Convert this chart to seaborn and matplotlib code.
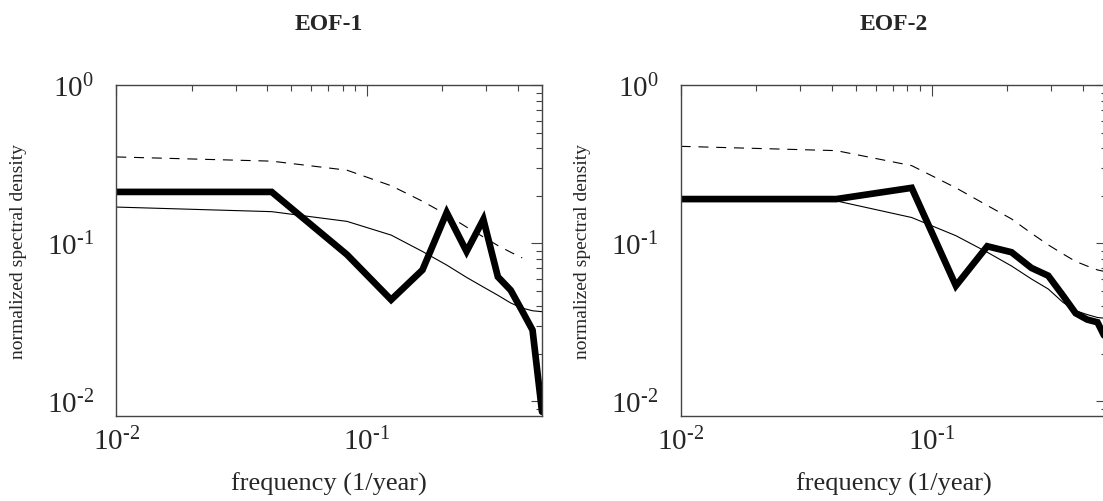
import numpy as np
import pandas as pd
import seaborn as sns
import matplotlib
matplotlib.use("Agg")
import matplotlib.pyplot as plt
from matplotlib.ticker import LogLocator, FuncFormatter, NullFormatter

# ---------------- data ----------------
freq = [0.01, 0.0417, 0.0833, 0.125, 0.1667, 0.2083, 0.25, 0.2917,
        0.3333, 0.375, 0.4167, 0.4583, 0.5]

# EOF-1
eof1_spec = [0.212, 0.212, 0.085, 0.044, 0.068, 0.157, 0.089, 0.142,
             0.0615, 0.0506, 0.0374, 0.0283, 0.0086]
eof1_red = [0.170, 0.159, 0.138, 0.113, 0.089, 0.073, 0.061, 0.053,
            0.047, 0.042, 0.039, 0.0375, 0.037]
eof1_sig_freq = [0.01, 0.0417, 0.0833, 0.125, 0.1667, 0.2083, 0.25, 0.2917,
                 0.3333, 0.375, 0.4167]
eof1_sig = [0.353, 0.332, 0.291, 0.232, 0.185, 0.152, 0.127, 0.110,
            0.097, 0.088, 0.081]

# EOF-2
eof2_spec = [0.191, 0.191, 0.225, 0.054, 0.096, 0.088, 0.070, 0.0625,
             0.047, 0.0362, 0.033, 0.0317, 0.024]
eof2_red = [0.190, 0.186, 0.146, 0.112, 0.088, 0.072, 0.0596, 0.0515,
            0.0425, 0.0375, 0.0355, 0.034, 0.0335]
eof2_sig_freq = freq
eof2_sig = [0.412, 0.387, 0.311, 0.225, 0.174, 0.143, 0.116, 0.098,
            0.086, 0.077, 0.072, 0.068, 0.066]

titles = ["EOF-1", "EOF-2"]
xlabel = "frequency (1/year)"
ylabel = "normalized spectral density"

# ---------------- style ----------------
sns.set_style("white")
plt.rcParams["font.family"] = ["Liberation Serif", "DejaVu Serif"]
plt.rcParams["mathtext.fontset"] = "custom"
plt.rcParams["mathtext.rm"] = "Liberation Serif"
plt.rcParams["mathtext.it"] = "Liberation Serif:italic"
plt.rcParams["mathtext.bf"] = "Liberation Serif:bold"

fig = plt.figure(figsize=(11.03, 5.02), dpi=100)
ax1 = fig.add_axes([0.1054, 0.1703, 0.386, 0.6574])
ax2 = fig.add_axes([0.6171, 0.1703, 0.3865, 0.6574])

panels = [
    (ax1, titles[0], eof1_spec, eof1_red, eof1_sig_freq, eof1_sig),
    (ax2, titles[1], eof2_spec, eof2_red, eof2_sig_freq, eof2_sig),
]


def _fmt(v, p):
    e = int(round(np.log10(v)))
    s = str(abs(e))
    if e < 0:
        s = "\u2010" + s
    return r"$\mathregular{10^{%s}}$" % s


fmt = FuncFormatter(_fmt)

for ax, title, spec, red, sig_f, sig in panels:
    ax.set_xscale("log")
    ax.set_yscale("log")
    sns.lineplot(x=freq, y=red, ax=ax, color="black", linewidth=0.8)
    sns.lineplot(x=sig_f, y=sig, ax=ax, color="black", linewidth=0.8,
                 linestyle=(0, (9, 7)))
    sns.lineplot(x=freq, y=spec, ax=ax, color="black", linewidth=4.8,
                 solid_joinstyle="miter", solid_capstyle="round")
    ax.set_xlim(0.01, 0.5)
    ax.set_ylim(10 ** -2.089, 1.0)

    ax.xaxis.set_major_locator(LogLocator(base=10, numticks=10))
    ax.yaxis.set_major_locator(LogLocator(base=10, numticks=10))
    ax.xaxis.set_minor_locator(LogLocator(base=10, subs=np.arange(2, 10), numticks=20))
    ax.yaxis.set_minor_locator(LogLocator(base=10, subs=np.arange(2, 10), numticks=20))
    ax.xaxis.set_major_formatter(fmt)
    ax.yaxis.set_major_formatter(fmt)
    ax.xaxis.set_minor_formatter(NullFormatter())
    ax.yaxis.set_minor_formatter(NullFormatter())

    ax.tick_params(which="both", direction="in", top=True, right=True,
                   color="#444444", width=0.8)
    ax.tick_params(which="major", length=8, labelsize=21)
    ax.tick_params(which="minor", length=4)
    ax.tick_params(axis="x", which="major", pad=8)
    ax.tick_params(axis="y", which="major", pad=16)

    for s in ax.spines.values():
        s.set_color("#444444")
        s.set_linewidth(1.0)

    ax.set_xlabel(xlabel, fontsize=19)
    ax.set_ylabel(ylabel, fontsize=14)
    ax.xaxis.set_label_coords(0.5, -0.17)
    ax.yaxis.set_label_coords(-0.21, 0.5)
    ax.set_title(title, fontsize=17, fontweight="bold", y=1.17, pad=0)

fig.savefig("out.png", dpi=100)
